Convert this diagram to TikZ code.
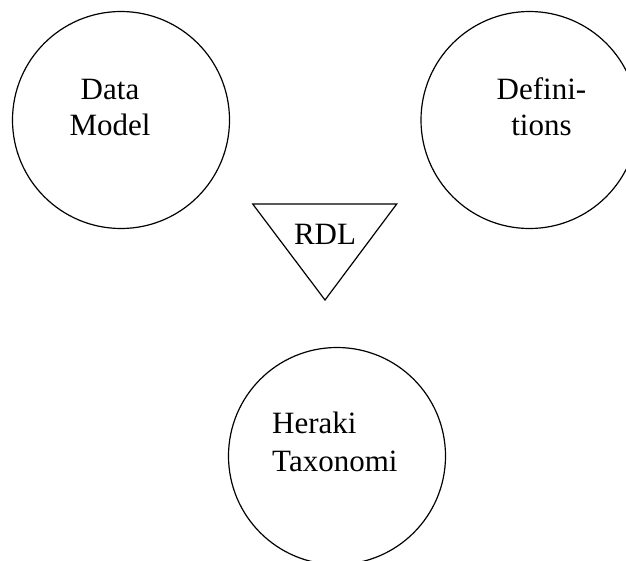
\documentclass[tikz,border=0pt]{standalone}
\usepackage{fontspec}
\setmainfont{Liberation Serif}
\begin{document}
\begin{tikzpicture}[x=1pt,y=-1pt,
  bubble/.style={draw,circle,line width=1.2pt,minimum size=217pt,inner sep=0pt},
  lbl/.style={anchor=base,inner sep=0pt,font=\fontsize{31}{37}\selectfont},
  lbll/.style={anchor=base west,inner sep=0pt,font=\fontsize{31}{37}\selectfont},
  tri/.style={draw,line width=1.2pt,line join=miter}]
\clip (0,0) rectangle (626,560);
\fill[white] (0,0) rectangle (626,560);
% circles
\node[bubble] (dm) at (121,120) {};
\node[bubble] (def) at (529.5,120) {};
\node[bubble] (ht) at (337,456) {};
% triangle
\coordinate (tl) at (252.7,204);
\coordinate (tr) at (396.7,204);
\coordinate (tb) at (325,300);
\draw[tri] (tl) -- (tr) -- (tb) -- cycle;
% labels
\node[lbl] (dm1) at (110,99) {Data};
\node[lbl] (dm2) at (110,135.5) {Model};
\node[lbl] (def1) at (541.5,99) {Defini-};
\node[lbl] (def2) at (541.5,135.5) {tions};
\node[lbl] (rdl) at (325,244) {RDL};
\node[lbll] (ht1) at (272,433) {Heraki};
\node[lbll] (ht2) at (272,471) {Taxonomi};
\end{tikzpicture}
\end{document}
